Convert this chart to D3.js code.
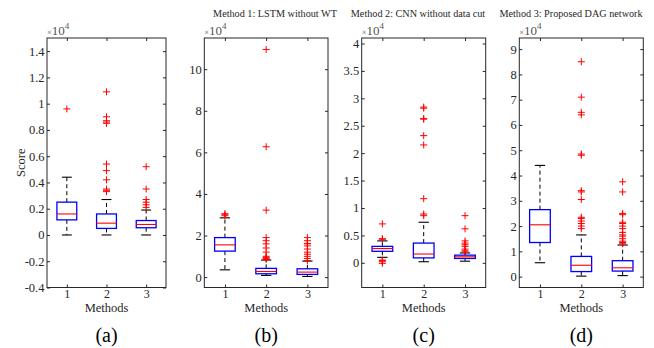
<!DOCTYPE html>
<html>
<head>
<meta charset="utf-8">
<script src="https://cdn.jsdelivr.net/npm/d3@7"></script>
<style>
  body { margin: 0; background: #fff; }
  text { font-family: "Liberation Serif", "Times New Roman", serif; }
</style>
</head>
<body>
<div id="chart"></div>
<script>
var methods = [1, 2, 3];
var panelNames = ["(a)", "(b)", "(c)", "(d)"];
var panelTitles = ["", "Method 1: LSTM without WT", "Method 2: CNN without data cut", "Method 3: Proposed DAG network"];

// box statistics (x10^4), one row per panel, one value per method
var whiskerLow  = [[0, 0, 0],          [0.35, 0.08, 0.03], [0.1, 0.02, 0.03],  [0.55, 0.02, 0.04]];
var quart1      = [[0.115, 0.05, 0.055], [1.25, 0.16, 0.13], [0.21, 0.09, 0.08], [1.35, 0.2, 0.22]];
var medians     = [[0.16, 0.09, 0.08],  [1.55, 0.27, 0.24], [0.26, 0.16, 0.11], [2.05, 0.45, 0.35]];
var quart3      = [[0.25, 0.16, 0.11],  [1.9, 0.42, 0.4],   [0.3, 0.36, 0.14],  [2.65, 0.8, 0.63]];
var whiskerHigh = [[0.44, 0.27, 0.19],  [2.85, 0.82, 0.77], [0.4, 0.74, 0.18],  [4.4, 1.65, 1.25]];

// outliers per panel, per method
var outliersA = [[0.96], [0.33, 0.34, 0.35, 0.42, 0.49, 0.54, 0.85, 0.86, 0.87, 0.9, 1.09], [0.21, 0.23, 0.25, 0.27, 0.35, 0.52]];
var outliersB = [[2.95, 3.0, 3.05], [0.85, 0.9, 0.95, 1.0, 1.2, 1.4, 1.6, 1.75, 1.9, 3.22, 6.27, 10.95], [0.8, 0.9, 1.0, 1.1, 1.2, 1.35, 1.5, 1.6, 1.62, 1.75, 1.9]];
var outliersC = [[-0.01, 0.02, 0.04, 0.05, 0.43, 0.44, 0.71], [0.86, 0.89, 1.17, 2.15, 2.32, 2.62, 2.63, 2.82, 2.84], [0.2, 0.22, 0.25, 0.3, 0.33, 0.36, 0.4, 0.62, 0.86]];
var outliersD = [[], [1.9, 2.0, 2.1, 2.2, 2.3, 2.35, 3.05, 3.35, 3.4, 4.8, 4.85, 6.4, 6.5, 7.1, 8.5], [1.3, 1.35, 1.4, 1.5, 1.6, 1.65, 1.75, 1.9, 2.0, 2.1, 2.15, 2.45, 2.5, 3.35, 3.75]];
var outliers = [outliersA, outliersB, outliersC, outliersD];

var yLimits = [[-0.4, 1.5], [-0.5, 11.5], [-0.45, 4.1], [-0.43, 9.44]];
var yTicks = [
  [-0.4, -0.2, 0, 0.2, 0.4, 0.6, 0.8, 1, 1.2, 1.4],
  [0, 2, 4, 6, 8, 10],
  [0, 0.5, 1, 1.5, 2, 2.5, 3, 3.5, 4],
  [0, 1, 2, 3, 4, 5, 6, 7, 8, 9]
];

// layout
var W = 654, H = 348;
var axLeft  = [47, 204.3, 361.7, 519.3],
    axRight = [166, 328, 485.7, 643.3],
    axTop = 38, axBottom = 287.5,
    titleX = [0, 275, 418, 571];
var ink = "#262626";

var svg = d3.select("#chart").append("svg")
    .attr("width", W)
    .attr("height", H);

var fmt = function(v) { return String(+v.toFixed(2)); };

panelNames.forEach(function(name, i) {
  var x = d3.scaleLinear().domain([0.5, 3.5]).range([axLeft[i], axRight[i]]);
  var y = d3.scaleLinear().domain(yLimits[i]).range([axBottom, axTop]);
  var g = svg.append("g");
  var half = 0.25, cap = 0.125;

  // axes with inward ticks
  var left = g.append("g").attr("transform", "translate(" + axLeft[i] + ",0)")
      .call(d3.axisLeft(y).tickValues(yTicks[i]).tickFormat(fmt).tickSizeInner(-3).tickSizeOuter(0).tickPadding(2.5));
  var right = g.append("g").attr("transform", "translate(" + axRight[i] + ",0)")
      .call(d3.axisRight(y).tickValues(yTicks[i]).tickFormat("").tickSizeInner(-3).tickSizeOuter(0));
  var bottom = g.append("g").attr("transform", "translate(0," + axBottom + ")")
      .call(d3.axisBottom(x).tickValues(methods).tickFormat(d3.format("d")).tickSizeInner(-3).tickSizeOuter(0).tickPadding(2));
  var top = g.append("g").attr("transform", "translate(0," + axTop + ")")
      .call(d3.axisTop(x).tickValues(methods).tickFormat("").tickSizeInner(-3).tickSizeOuter(0));
  [left, right, bottom, top].forEach(function(a) {
    a.select(".domain").remove();
    a.selectAll("line").attr("stroke", ink);
    a.selectAll("text").attr("fill", ink).style("font-size", "12.5px")
      .style("font-family", "Liberation Serif");
  });
  bottom.selectAll("text").style("font-size", "12px");

  g.append("rect")
    .attr("x", axLeft[i]).attr("y", axTop)
    .attr("width", axRight[i] - axLeft[i]).attr("height", axBottom - axTop)
    .attr("fill", "none").attr("stroke", ink).attr("stroke-width", 1);

  // boxes
  methods.forEach(function(m, j) {
    var b = g.append("g");
    // whiskers
    b.append("line")
      .attr("x1", x(m)).attr("x2", x(m))
      .attr("y1", y(quart3[i][j])).attr("y2", y(whiskerHigh[i][j]))
      .attr("stroke", "#000").attr("stroke-dasharray", "4,3");
    b.append("line")
      .attr("x1", x(m)).attr("x2", x(m))
      .attr("y1", y(quart1[i][j])).attr("y2", y(whiskerLow[i][j]))
      .attr("stroke", "#000").attr("stroke-dasharray", "4,3");
    [whiskerHigh[i][j], whiskerLow[i][j]].forEach(function(v) {
      b.append("line")
        .attr("x1", x(m - cap)).attr("x2", x(m + cap))
        .attr("y1", y(v)).attr("y2", y(v))
        .attr("stroke", "#000").attr("stroke-width", 1.1);
    });
    b.append("rect")
      .attr("x", x(m - half)).attr("y", y(quart3[i][j]))
      .attr("width", x(m + half) - x(m - half))
      .attr("height", y(quart1[i][j]) - y(quart3[i][j]))
      .attr("fill", "none").attr("stroke", "#0000ff").attr("stroke-width", 1.3);
    b.append("line")
      .attr("x1", x(m - half)).attr("x2", x(m + half))
      .attr("y1", y(medians[i][j])).attr("y2", y(medians[i][j]))
      .attr("stroke", "#ff0000").attr("stroke-width", 1.1);

    // outliers as red plus signs
    b.selectAll(".out").data(outliers[i][j]).enter()
      .append("path")
      .attr("class", "out")
      .attr("d", function(v) {
        var cx = x(m), cy = y(v), r = 3.5;
        return "M" + (cx - r) + "," + cy + "H" + (cx + r) + "M" + cx + "," + (cy - r) + "V" + (cy + r);
      })
      .attr("stroke", "#ff0000").attr("stroke-width", 1).attr("fill", "none");
  });

  // x10^4 exponent
  var ex = g.append("text")
    .attr("x", axLeft[i]).attr("y", 35)
    .attr("fill", "#555").style("font-size", "13px");
  ex.append("tspan").text("\u00d7").style("font-size", "8.5px");
  ex.append("tspan").text("10");
  ex.append("tspan").text("4").attr("dy", -6).style("font-size", "9px");

  // x label and panel tag
  var cx = (axLeft[i] + axRight[i]) / 2;
  g.append("text")
    .attr("x", cx).attr("y", 311.5)
    .attr("text-anchor", "middle")
    .attr("fill", ink).style("font-size", "12.5px")
    .text("Methods");
  g.append("text")
    .attr("x", cx).attr("y", 342)
    .attr("text-anchor", "middle")
    .attr("fill", "#000").style("font-size", "20px")
    .text(name);

  if (panelTitles[i]) {
    g.append("text")
      .attr("x", titleX[i]).attr("y", 17)
      .attr("text-anchor", "middle")
      .attr("fill", ink).style("font-size", "10.2px")
      .text(panelTitles[i]);
  }
});

// y label on the first panel
svg.append("text")
  .attr("transform", "translate(25," + ((axTop + axBottom) / 2) + ") rotate(-90)")
  .attr("text-anchor", "middle")
  .attr("fill", ink).style("font-size", "12.5px")
  .text("Score");
</script>
</body>
</html>
